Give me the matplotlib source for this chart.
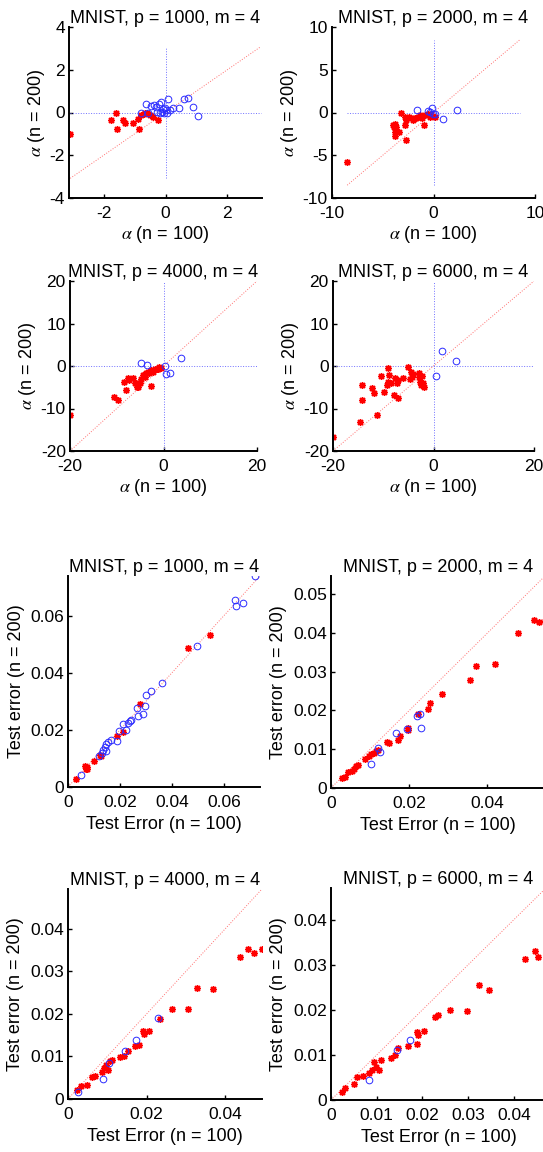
import matplotlib
matplotlib.use("Agg")
import matplotlib.pyplot as plt
from matplotlib.ticker import FuncFormatter

plt.rcParams["font.family"] = ["Liberation Sans", "DejaVu Sans"]
plt.rcParams["font.size"] = 12.5
plt.rcParams["axes.unicode_minus"] = False
plt.rcParams["mathtext.fontset"] = "stix"

TITLES = ["MNIST, p = 1000, m = 4", "MNIST, p = 2000, m = 4",
          "MNIST, p = 4000, m = 4", "MNIST, p = 6000, m = 4"]

# ---- alpha, n = 100 vs n = 200 (red: alpha < 0, blue: otherwise) ----
a1_red_x = [-3.08, -1.76, -1.60, -1.58, -1.37, -1.31, -1.04, -0.88, -0.86, -0.78,
            -0.69, -0.59, -0.51, -0.40, -0.24, -0.67]
a1_red_y = [-0.99, -0.35, 0.0, -0.77, -0.35, -0.49, -0.49, -0.31, -0.75, -0.14,
            -0.08, 0.0, -0.14, -0.20, -0.34, -0.03]
a1_blue_x = [-0.62, -0.78, -0.46, -0.37, -0.30, -0.22, -0.14, -0.08, -0.03, 0.03,
             0.08, 0.13, 0.24, 0.45, 0.59, 0.74, 0.88, 1.04, -0.19, -0.11,
             -0.05, -0.27, -0.56, 0.06]
a1_blue_y = [0.42, 0.0, 0.29, 0.33, 0.24, 0.39, 0.50, 0.17, 0.23, 0.12,
             0.62, 0.12, 0.19, 0.22, 0.62, 0.68, 0.27, -0.16, 0.0, 0.04,
             -0.03, 0.04, -0.03, 0.0]

a2_red_x = [-8.5, -3.18, -4.0, -3.9, -3.8, -3.67, -3.84, -3.4, -3.77, -2.85,
            -2.79, -2.69, -2.7, -2.4, -2.03, -1.8, -1.54, -1.3, -1.1, -0.98,
            -0.79, -0.56, -0.39, -0.2, 0.1, -2.2, -1.73, -1.35]
a2_red_y = [-5.8, 0.0, -1.48, -1.75, -1.4, -1.67, -2.25, -2.25, -2.76, -0.58,
            -1.48, -3.22, -0.85, -0.5, -0.9, -0.6, -0.5, -0.3, -0.7, -1.48,
            -0.3, -0.23, -0.5, -0.12, -0.5, -0.7, -0.63, -0.5]
a2_blue_x = [-1.64, -0.56, -0.13, -0.3, -0.07, 0.1, 0.98, 2.33]
a2_blue_y = [0.35, 0.19, 0.58, 0.1, -0.12, -0.23, -0.78, 0.35]

a3_red_x = [-20.0, -10.5, -9.8, -8.35, -8.0, -7.3, -6.55, -5.85, -5.5, -4.8,
            -4.4, -3.9, -3.35, -3.0, -2.6, -2.3, -1.9, -1.35, -0.9, -0.5,
            -5.1, -6.2, -4.1, -3.7, -2.6, -1.1, -7.6, -5.6]
a3_red_y = [-11.5, -7.35, -8.0, -3.7, -5.6, -3.3, -2.9, -4.1, -4.9, -3.15,
            -2.1, -2.5, -1.5, -1.7, -4.6, -1.5, -0.7, -0.6, -0.3, -0.4,
            -4.1, -4.1, -2.1, -1.6, -0.9, -0.8, -2.9, -4.85]
a3_blue_x = [-4.9, -3.5, 0.36, 0.58, 1.36, 3.64]
a3_blue_y = [0.8, 0.24, 0.0, -1.9, -1.57, 2.0]

a4_red_x = [-20.0, -14.6, -14.3, -14.3, -11.3, -12.3, -11.8, -10.5, -9.9, -9.1,
            -8.8, -9.1, -9.3, -8.5, -7.6, -7.3, -7.1, -7.8, -7.1, -6.0,
            -5.1, -4.5, -4.3, -4.1, -4.7, -2.8, -2.7, -2.5, -2.1, -1.9,
            -2.9, -2.3]
a4_red_y = [-16.8, -13.1, -8.1, -4.5, -11.5, -5.2, -6.4, -2.35, -6.0, -0.55,
            -2.1, -3.7, -4.5, -4.1, -2.9, -3.9, -3.3, -6.8, -7.6, -2.9,
            -0.3, -1.3, -2.5, -1.9, -3.1, -2.5, -3.7, -4.5, -3.9, -5.0,
            -1.6, -2.3]
a4_blue_x = [1.73, 4.5, 0.4]
a4_blue_y = [3.6, 1.2, -2.35]

# ---- test error, n = 100 vs n = 200 ----
e1_red_x = [0.0032, 0.0068, 0.0073, 0.0064, 0.0072, 0.0100, 0.0122, 0.0128, 0.0190, 0.0210,
            0.0277, 0.0460, 0.0547]
e1_red_y = [0.0029, 0.0063, 0.0069, 0.0072, 0.0062, 0.0090, 0.0113, 0.0110, 0.0178, 0.0192,
            0.0289, 0.0487, 0.0534]
e1_blue_x = [0.0051, 0.0120, 0.0129, 0.0135, 0.0141, 0.0148, 0.0145, 0.0154, 0.0167, 0.0190,
             0.0196, 0.0212, 0.0225, 0.0232, 0.0238, 0.0244, 0.0264, 0.0270, 0.0287, 0.0298,
             0.0302, 0.0319, 0.0363, 0.0498, 0.0644, 0.0647, 0.0675, 0.0720]
e1_blue_y = [0.0042, 0.0108, 0.0119, 0.0131, 0.0140, 0.0152, 0.0127, 0.0157, 0.0166, 0.0160,
             0.0195, 0.0222, 0.0198, 0.0225, 0.0230, 0.0236, 0.0277, 0.0248, 0.0254, 0.0285,
             0.0323, 0.0337, 0.0365, 0.0494, 0.0656, 0.0634, 0.0646, 0.0739]

e2_red_x = [0.0028, 0.0035, 0.0043, 0.0053, 0.0058, 0.0064, 0.0069, 0.0088, 0.0097, 0.0103,
            0.0110, 0.0116, 0.0121, 0.0144, 0.0148, 0.0170, 0.0176, 0.0196, 0.0198, 0.0222,
            0.0247, 0.0253, 0.0284, 0.0355, 0.0370, 0.0420, 0.0478, 0.0519, 0.0532, 0.0547]
e2_red_y = [0.0025, 0.0028, 0.0041, 0.0043, 0.0048, 0.0056, 0.0060, 0.0074, 0.0082, 0.0087,
            0.0091, 0.0095, 0.0099, 0.0118, 0.0115, 0.0125, 0.0134, 0.0156, 0.0150, 0.0190,
            0.0205, 0.0220, 0.0242, 0.0279, 0.0316, 0.0319, 0.0401, 0.0434, 0.0428, 0.0430]
e2_blue_x = [0.0103, 0.0119, 0.0124, 0.0167, 0.0193, 0.0219, 0.0228, 0.0229]
e2_blue_y = [0.0061, 0.0102, 0.0093, 0.0143, 0.0153, 0.0186, 0.0191, 0.0154]

e3_red_x = [0.0023, 0.0034, 0.0049, 0.0060, 0.0069, 0.0086, 0.0092, 0.0097, 0.0103, 0.0107,
            0.0112, 0.0133, 0.0143, 0.0152, 0.0171, 0.0180, 0.0191, 0.0194, 0.0206, 0.0234,
            0.0266, 0.0306, 0.0328, 0.0368, 0.0439, 0.0458, 0.0473, 0.0494]
e3_red_y = [0.0022, 0.0030, 0.0034, 0.0051, 0.0055, 0.0063, 0.0073, 0.0079, 0.0069, 0.0089,
            0.0091, 0.0099, 0.0101, 0.0112, 0.0124, 0.0128, 0.0160, 0.0154, 0.0160, 0.0189,
            0.0212, 0.0212, 0.0261, 0.0258, 0.0335, 0.0352, 0.0343, 0.0354]
e3_blue_x = [0.0026, 0.0088, 0.0104, 0.0144, 0.0173, 0.0230]
e3_blue_y = [0.0017, 0.0046, 0.0085, 0.0114, 0.0138, 0.0190]

e4_red_x = [0.0025, 0.0030, 0.0050, 0.0057, 0.0070, 0.0083, 0.0090, 0.0094, 0.0099, 0.0104,
            0.0109, 0.0131, 0.0139, 0.0146, 0.0168, 0.0187, 0.0188, 0.0190, 0.0203, 0.0227,
            0.0233, 0.0261, 0.0298, 0.0324, 0.0346, 0.0425, 0.0446, 0.0453, 0.0470]
e4_red_y = [0.0018, 0.0027, 0.0035, 0.0051, 0.0053, 0.0060, 0.0066, 0.0085, 0.0074, 0.0066,
            0.0088, 0.0094, 0.0099, 0.0116, 0.0119, 0.0124, 0.0151, 0.0143, 0.0154, 0.0185,
            0.0188, 0.0200, 0.0197, 0.0255, 0.0243, 0.0313, 0.0331, 0.0316, 0.0330]
e4_blue_x = [0.0083, 0.0144, 0.0173]
e4_blue_y = [0.0044, 0.0110, 0.0134]

alpha_sets = [(a1_red_x, a1_red_y, a1_blue_x, a1_blue_y),
              (a2_red_x, a2_red_y, a2_blue_x, a2_blue_y),
              (a3_red_x, a3_red_y, a3_blue_x, a3_blue_y),
              (a4_red_x, a4_red_y, a4_blue_x, a4_blue_y)]
err_sets = [(e1_red_x, e1_red_y, e1_blue_x, e1_blue_y),
            (e2_red_x, e2_red_y, e2_blue_x, e2_blue_y),
            (e3_red_x, e3_red_y, e3_blue_x, e3_blue_y),
            (e4_red_x, e4_red_y, e4_blue_x, e4_blue_y)]

alpha_xlims = [(-3.12, 3.12), (-10, 10), (-20, 20), (-20, 20)]
alpha_ylims = [(-4, 4), (-10, 10), (-20, 20), (-20, 20)]
alpha_xticks = [[-2, 0, 2], [-10, 0, 10], [-20, 0, 20], [-20, 0, 20]]
alpha_yticks = [[-4, -2, 0, 2, 4], [-10, -5, 0, 5, 10],
                [-20, -10, 0, 10, 20], [-20, -10, 0, 10, 20]]
err_xticks = [[0, 0.02, 0.04, 0.06], [0, 0.02, 0.04], [0, 0.02, 0.04],
              [0, 0.01, 0.02, 0.03, 0.04]]
err_yticks = [[0, 0.02, 0.04, 0.06], [0, 0.01, 0.02, 0.03, 0.04, 0.05],
              [0, 0.01, 0.02, 0.03, 0.04], [0, 0.01, 0.02, 0.03, 0.04]]

# axes boxes in pixels: left, right, top, bottom
W, H = 543, 1152
alpha_boxes = [(69, 262, 27, 198), (332, 535, 27, 198),
               (70, 257, 281, 451), (333, 534, 281, 451)]
err_boxes = [(68, 260, 576, 787), (331, 545, 576, 788),
             (68, 262, 889, 1099), (331, 546, 888, 1100)]

RED = "#ff0000"
BLUE = "#2b2bff"
fmt = FuncFormatter(lambda v, p: "%g" % v)


def make_ax(fig, box):
    l, r, t, b = box
    ax = fig.add_axes([l / W, 1 - b / H, (r - l) / W, (b - t) / H])
    for s in ["top", "right"]:
        ax.spines[s].set_visible(False)
    for s in ["left", "bottom"]:
        ax.spines[s].set_linewidth(1.4)
    ax.tick_params(direction="in", length=3, width=1, labelsize=12.5)
    ax.tick_params(axis="x", pad=6)
    ax.tick_params(axis="y", pad=3)
    ax.xaxis.set_major_formatter(fmt)
    ax.yaxis.set_major_formatter(fmt)
    return ax


def draw_points(ax, rx, ry, bx, by):
    ax.plot(rx, ry, linestyle="none", marker=(8, 2, 0), markersize=5,
            markeredgecolor=RED, markeredgewidth=1.0, color=RED)
    ax.plot(bx, by, linestyle="none", marker="o", markersize=4.8,
            markerfacecolor="none", markeredgecolor=BLUE, markeredgewidth=0.7)


fig = plt.figure(figsize=(W / 100, H / 100), dpi=100)

for i in range(4):
    rx, ry, bx, by = alpha_sets[i]
    ax = make_ax(fig, alpha_boxes[i])
    L = max(abs(v) for v in rx + ry + bx + by)
    ax.plot([-L, L], [-L, L], ":", color="#ff7070", lw=0.7)
    ax.plot([-L, L], [0, 0], ":", color="#7070ff", lw=0.7)
    ax.plot([0, 0], [-L, L], ":", color="#7070ff", lw=0.7)
    draw_points(ax, rx, ry, bx, by)
    ax.set_xlim(alpha_xlims[i])
    ax.set_ylim(alpha_ylims[i])
    ax.set_xticks(alpha_xticks[i])
    ax.set_yticks(alpha_yticks[i])
    ax.set_title(TITLES[i], fontsize=13, pad=3)
    ax.set_xlabel(r"$\alpha$ (n = 100)", fontsize=13, labelpad=2)
    ax.set_ylabel(r"$\alpha$ (n = 200)", fontsize=13, labelpad=2)

for i in range(4):
    rx, ry, bx, by = err_sets[i]
    ax = make_ax(fig, err_boxes[i])
    M = max(rx + ry + bx + by)
    ax.plot([0, M], [0, M], ":", color="#ff7070", lw=0.7)
    draw_points(ax, rx, ry, bx, by)
    ax.set_xlim(0, M)
    ax.set_ylim(0, M)
    ax.set_xticks(err_xticks[i])
    ax.set_yticks(err_yticks[i])
    ax.set_title(TITLES[i], fontsize=13, pad=3)
    ax.set_xlabel("Test Error (n = 100)", fontsize=13, labelpad=4)
    ax.set_ylabel("Test error (n = 200)", fontsize=13, labelpad=4)

fig.savefig("out.png", dpi=100)
